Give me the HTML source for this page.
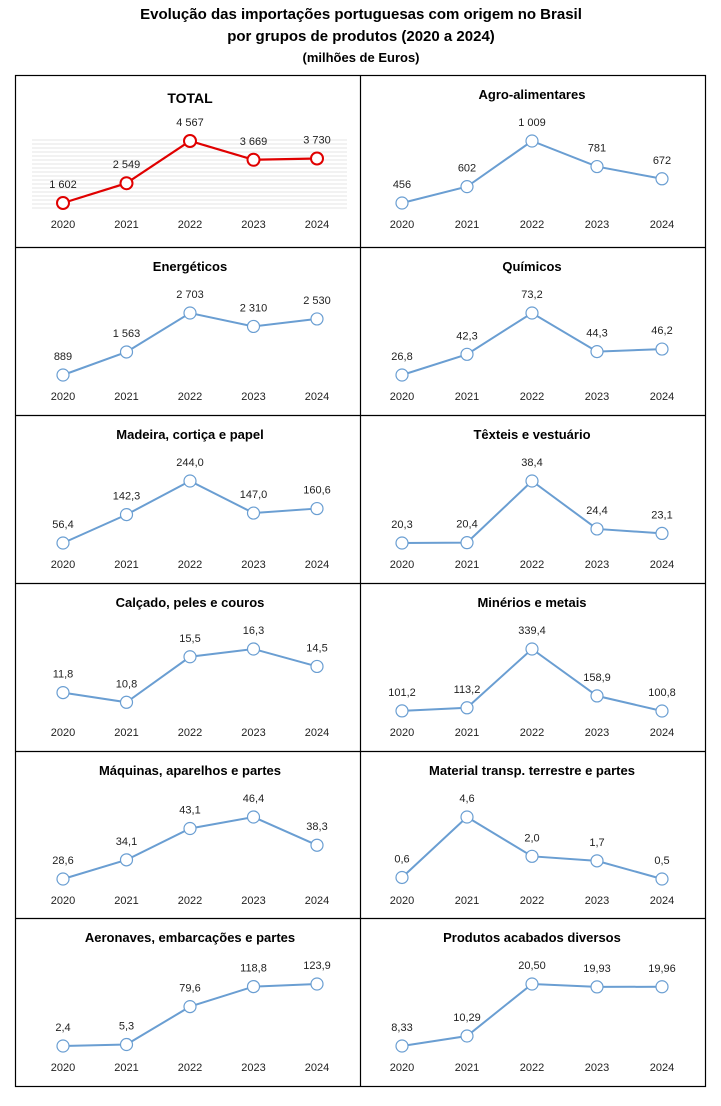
<!DOCTYPE html>
<html><head><meta charset="utf-8"><style>
body{margin:0;background:#fff;font-family:"Liberation Sans",Arial,sans-serif}
svg text{font-family:"Liberation Sans",Arial,sans-serif}
</style></head><body>
<svg id="c" width="721" height="1101" viewBox="0 0 721 1101" xmlns="http://www.w3.org/2000/svg">
<text x="361" y="19" text-anchor="middle" font-size="15" font-weight="bold">Evolução das importações portuguesas com origem no Brasil</text>
<text x="361" y="41" text-anchor="middle" font-size="15" font-weight="bold">por grupos de produtos (2020 a 2024)</text>
<text x="361" y="62" text-anchor="middle" font-size="13" font-weight="bold">(milhões de Euros)</text>
</svg>
<script>
const years=["2020","2021","2022","2023","2024"];
const titles=["TOTAL","Agro-alimentares","Energéticos","Químicos","Madeira, cortiça e papel","Têxteis e vestuário","Calçado, peles e couros","Minérios e metais","Máquinas, aparelhos e partes","Material transp. terrestre e partes","Aeronaves, embarcações e partes","Produtos acabados diversos"];
const values=[[1602,2549,4567,3669,3730],[456,602,1009,781,672],[889,1563,2703,2310,2530],[26.8,42.3,73.2,44.3,46.2],[56.4,142.3,244.0,147.0,160.6],[20.3,20.4,38.4,24.4,23.1],[11.8,10.8,15.5,16.3,14.5],[101.2,113.2,339.4,158.9,100.8],[28.6,34.1,43.1,46.4,38.3],[0.6,4.6,2.0,1.7,0.5],[2.4,5.3,79.6,118.8,123.9],[8.33,10.29,20.50,19.93,19.96]];
const labels=[["1 602","2 549","4 567","3 669","3 730"],["456","602","1 009","781","672"],["889","1 563","2 703","2 310","2 530"],["26,8","42,3","73,2","44,3","46,2"],["56,4","142,3","244,0","147,0","160,6"],["20,3","20,4","38,4","24,4","23,1"],["11,8","10,8","15,5","16,3","14,5"],["101,2","113,2","339,4","158,9","100,8"],["28,6","34,1","43,1","46,4","38,3"],["0,6","4,6","2,0","1,7","0,5"],["2,4","5,3","79,6","118,8","123,9"],["8,33","10,29","20,50","19,93","19,96"]];
const axisMin=[1602,456,889,26.8,56.4,20.3,9.9,100.8,28.6,0.5,2.4,8.33];
const axisMax=[4567,1009,2703,73.2,244,38.4,16.3,339.4,46.4,4.6,123.9,20.5];
const rowsY=[75,247,415,583,751,918,1087];
const colX=[15,360,706];
const NS="http://www.w3.org/2000/svg";
const svg=document.getElementById('c');
function mk(t,a,p){const e=document.createElementNS(NS,t);for(const k in a)e.setAttribute(k,a[k]);(p||svg).appendChild(e);return e;}
const box=mk('rect',{x:15.5,y:75.5,width:690,height:1011,fill:'none',stroke:'#000','stroke-width':1.2});


for(let r=1;r<6;r++){const l=mk('line',{x1:15,x2:706,y1:rowsY[r]+.5,y2:rowsY[r]+.5,stroke:'#000','stroke-width':1.2});

}
const vl=mk('line',{x1:360.5,x2:360.5,y1:75,y2:1087,stroke:'#000','stroke-width':1.2});


titles.forEach((t,i)=>{
  const r=Math.floor(i/2),c=i%2,top=rowsY[r];
  const g=mk('g',{});
  
  
  const cx=c===0?[63,126.5,190,253.5,317]:[402,467,532,597,662];
  const x0=c===0?37:378,x1=c===0?347:690;
  if(i===0){for(let y=140;y<=208;y+=4){const s=mk('line',{x1:32,x2:347,y1:y,y2:y,stroke:'#e6e6e6','stroke-width':1},g);
    
    }}
  const tt=mk('text',{x:c===0?190:532,y:top+(i===0?28:24),'text-anchor':'middle','font-size':i===0?14:13,'font-weight':'bold'},g);
  tt.textContent=t;
  
  
  const yb=top+128,yt=top+66;
  const ys=v=>yb-(v-axisMin[i])/(axisMax[i]-axisMin[i])*(yb-yt);
  const col=i===0?'#e00000':'#6a9ed2';
  const pts=values[i].map((v,k)=>cx[k]+','+ys(v)).join(' ');
  const pl=mk('polyline',{points:pts,fill:'none',stroke:col,'stroke-width':i===0?2.2:2},g);
  
  
  values[i].forEach((v,k)=>{
    const ci=mk('circle',{cx:cx[k],cy:ys(v),r:6,fill:'#fff',stroke:col,'stroke-width':i===0?2:1.2},g);
    
    
    const lt=mk('text',{x:cx[k],y:ys(v)-15,'text-anchor':'middle','font-size':11,fill:'#222'},g);
    lt.textContent=labels[i][k];
    
    
    const yt2=mk('text',{x:cx[k],y:top+153,'text-anchor':'middle','font-size':11,fill:'#222'},g);
    yt2.textContent=years[k];
    
    
  });
});
</script>
</body></html>
